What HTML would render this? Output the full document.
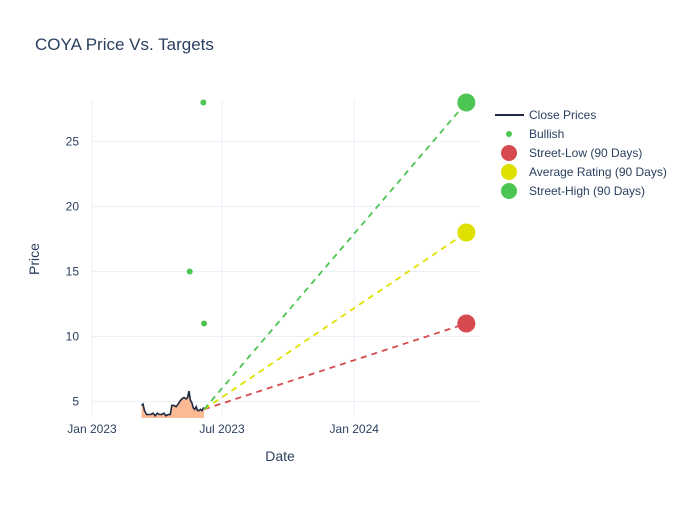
<!DOCTYPE html>
<html><head><meta charset="utf-8"><style>
body{margin:0;background:#fff;font-family:"Liberation Sans",sans-serif;}
svg text{font-family:"Liberation Sans",sans-serif;fill:#2a3f5f;}
</style></head><body>
<svg id="c" width="700" height="500" xmlns="http://www.w3.org/2000/svg">
<rect width="700" height="500" fill="#fff"/>
<text x="35" y="50" font-size="17">COYA Price Vs. Targets</text>
<g id="grid"></g>
<defs><clipPath id="clip"><rect x="92" y="100" width="388" height="318"/></clipPath></defs>
<g id="plot" clip-path="url(#clip)"></g>
<g id="axes"></g>
<text x="280" y="461" font-size="14" text-anchor="middle">Date</text>
<text transform="translate(39,259) rotate(-90)" font-size="14" text-anchor="middle">Price</text>
<g id="legend"></g>
</svg>
<script>
// days since 2023-01-01
const priceDays=[69,71,73,76,79,82,85,88,91,94,97,100,103,106,109,111,114,117,120,122,125,128,131,133,135,137,139,141,143,145,147,149,151,153,155,156];
const priceVals=[4.7,4.8,4.3,4.0,4.0,4.0,4.1,3.9,4.1,4.0,4.0,4.1,3.9,4.0,4.0,4.7,4.7,4.6,4.8,5.0,5.2,5.3,5.2,5.3,5.8,5.1,4.9,4.5,4.4,4.6,4.3,4.3,4.4,4.3,4.5,4.5];
const bullDays=[155,136,156];
const bullVals=[28,15,11];
const targetStartDay=156, targetStartVal=4.4, targetDay=521;
const targetNames=["Street-Low (90 Days)","Average Rating (90 Days)","Street-High (90 Days)"];
const targetVals=[11,18,28];
const targetColors=["#d64a4f","#e0e000","#4cc552"];
const yTicks=[5,10,15,20,25];
const xTickDays=[0,181,365];
const xTickLabels=["Jan 2023","Jul 2023","Jan 2024"];

const X=d=>92+d*0.7185, Y=v=>401.5-(v-5)*13.0;
const NS="http://www.w3.org/2000/svg";
function mk(t,a,p){const e=document.createElementNS(NS,t);for(const k in a)e.setAttribute(k,a[k]);p.appendChild(e);return e;}
const grid=document.getElementById('grid'),plot=document.getElementById('plot'),axes=document.getElementById('axes'),leg=document.getElementById('legend');
yTicks.forEach(v=>{const l=mk('line',{x1:92,x2:480,y1:Y(v),y2:Y(v),stroke:'#ebf0f8'},grid);


const t=mk('text',{x:79,y:Y(v)+4,'font-size':12,'text-anchor':'end'},axes);t.textContent=v;

});
xTickDays.forEach((d,i)=>{const l=mk('line',{x1:X(d),x2:X(d),y1:100,y2:418,stroke:'#ebf0f8'},grid);


const t=mk('text',{x:X(d),y:433,'font-size':12,'text-anchor':'middle'},axes);t.textContent=xTickLabels[i];

});
let pts=priceDays.map((d,i)=>X(d).toFixed(1)+','+Y(priceVals[i]).toFixed(1));
const area=mk('polygon',{points:X(priceDays[0])+',420 '+pts.join(' ')+' '+X(priceDays[priceDays.length-1])+',420',fill:'#fbb994',stroke:'none'},plot);


const line=mk('polyline',{points:pts.join(' '),fill:'none',stroke:'#1f2a44','stroke-width':1.6},plot);


targetVals.forEach((v,i)=>{const l=mk('line',{x1:X(targetStartDay),y1:Y(targetStartVal),x2:X(targetDay),y2:Y(v),stroke:targetColors[i],'stroke-width':1.8,'stroke-dasharray':'6,5'},plot);

});
bullDays.forEach((d,i)=>{const c=mk('circle',{cx:X(d),cy:Y(bullVals[i]),r:3,fill:'#4cc552'},axes);

});
targetVals.forEach((v,i)=>{const c=mk('circle',{cx:X(targetDay),cy:Y(v),r:9,fill:targetColors[i]},axes);

});
const items=[["Close Prices","line","#1f2a44"],["Bullish","small","#4cc552"]].concat(targetNames.map((n,i)=>[n,"big",targetColors[i]]));
items.forEach((it,i)=>{const y=115+i*19;const g=mk('g',{},leg);


if(it[1]=='line')mk('line',{x1:495,x2:524,y1:y,y2:y,stroke:it[2],'stroke-width':2},g);
else mk('circle',{cx:509,cy:y,r:it[1]=='small'?3:8,fill:it[2]},g);
const t=mk('text',{x:529,y:y+4,'font-size':12},g);t.textContent=it[0];});
</script>
</body></html>
